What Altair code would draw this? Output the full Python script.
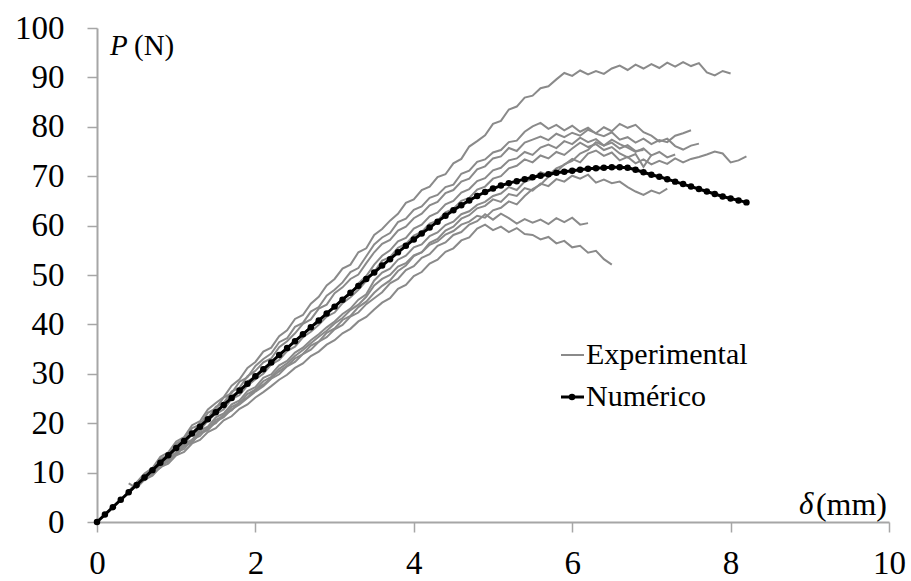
import altair as alt
import pandas as pd

FONT = "Liberation Serif"

# deslocamento (mm) sampling grid
DELTA = [0.0, 0.1, 0.2, 0.3, 0.4, 0.5, 0.6, 0.7, 0.8, 0.9,
         1.0, 1.1, 1.2, 1.3, 1.4, 1.5, 1.6, 1.7, 1.8, 1.9,
         2.0, 2.1, 2.2, 2.3, 2.4, 2.5, 2.6, 2.7, 2.8, 2.9,
         3.0, 3.1, 3.2, 3.3, 3.4, 3.5, 3.6, 3.7, 3.8, 3.9,
         4.0, 4.1, 4.2, 4.3, 4.4, 4.5, 4.6, 4.7, 4.8, 4.9,
         5.0, 5.1, 5.2, 5.3, 5.4, 5.5, 5.6, 5.7, 5.8, 5.9,
         6.0, 6.1, 6.2, 6.3, 6.4, 6.5, 6.6, 6.7, 6.8, 6.9,
         7.0, 7.1, 7.2, 7.3, 7.4, 7.5, 7.6, 7.7, 7.8, 7.9,
         8.0, 8.1, 8.2]

# Numerical curve P (N), one value per DELTA entry
NUM_P = [0.0, 1.5, 3.0, 4.5, 6.0, 7.5, 9.0, 10.5, 12.0, 13.5,
         15.0, 16.4, 17.9, 19.3, 20.8, 22.2, 23.7, 25.1, 26.6, 28.0,
         29.5, 30.9, 32.3, 33.8, 35.2, 36.6, 38.0, 39.4, 40.8, 42.2,
         43.6, 45.0, 46.4, 47.8, 49.2, 50.5, 51.9, 53.2, 54.6, 55.9,
         57.2, 58.4, 59.6, 60.8, 62.0, 63.1, 64.1, 65.1, 66.0, 66.8,
         67.5, 68.1, 68.6, 69.0, 69.4, 69.8, 70.1, 70.4, 70.7, 70.9,
         71.1, 71.3, 71.5, 71.6, 71.7, 71.8, 71.8, 71.7, 71.3, 70.8,
         70.3, 69.9, 69.4, 68.9, 68.4, 67.9, 67.4, 66.9, 66.4, 65.9,
         65.5, 65.1, 64.7]

# Experimental curves: first delta and P values every 0.1 mm
EXP_START = {"A": 0.5, "B": 0.6, "C": 0.5, "D": 0.6, "E": 0.4,
             "F": 0.5, "G": 0.5, "H": 0.4, "I": 0.7, "J": 0.6}

EXP_A = [8.0, 9.8, 10.9, 13.2, 14.1, 16.3, 17.2, 19.6, 20.4, 22.8,
         24.1, 25.3, 27.6, 28.9, 31.2, 32.4, 34.5, 35.3, 37.6, 38.8,
         41.1, 41.9, 44.2, 45.6, 47.9, 49.2, 51.3, 52.1, 54.6, 55.4,
         58.1, 59.3, 61.0, 62.4, 64.6, 65.3, 67.2, 67.9, 69.8, 70.4,
         72.6, 73.5, 76.0, 77.1, 78.3, 80.6, 81.2, 83.5, 84.1, 85.9,
         86.3, 87.8, 88.2, 89.6, 90.9, 90.3, 91.4, 90.6, 91.3, 90.7,
         91.8, 92.4, 91.5, 92.6, 91.8, 92.7, 91.9, 93.0, 92.2, 93.1,
         92.3, 92.9, 91.0, 90.4, 91.3, 90.8]
EXP_B = [9.2, 10.6, 12.8, 13.5, 15.9, 16.8, 19.0, 19.7, 22.1, 23.0,
         25.2, 26.1, 28.4, 29.3, 31.6, 33.0, 34.1, 36.4, 37.2, 39.5,
         40.3, 42.6, 43.5, 45.8, 47.0, 48.5, 50.6, 51.4, 53.8, 56.2,
         57.6, 58.5, 60.7, 61.4, 63.2, 63.9, 65.6, 66.2, 67.8, 68.3,
         70.5, 71.1, 72.9, 73.4, 74.8, 75.3, 76.9, 77.2, 79.0, 80.1,
         80.8, 79.6, 80.4, 79.3, 80.2, 79.0, 79.8, 78.6, 78.1, 78.9,
         77.4, 77.9, 76.8, 77.6, 76.5, 77.3, 76.9, 78.2, 78.7, 79.3]
EXP_C = [7.6, 9.5, 10.3, 12.6, 13.2, 15.4, 16.9, 17.8, 20.1, 21.0,
         23.3, 24.1, 26.4, 27.2, 29.5, 30.6, 32.3, 33.1, 35.4, 36.6,
         38.2, 40.1, 41.0, 43.2, 44.0, 46.3, 47.5, 49.2, 50.1, 52.4,
         54.6, 56.3, 57.1, 59.0, 59.8, 61.5, 62.4, 64.1, 64.8, 66.6,
         67.2, 68.9, 69.5, 71.4, 72.0, 73.6, 74.0, 75.7, 75.1, 76.8,
         77.4, 78.0, 77.3, 78.6, 77.9, 78.8, 78.2, 79.4, 78.7, 79.9,
         79.1, 80.6, 79.8, 80.4, 78.9, 78.2, 77.0, 77.6, 76.1, 75.4,
         76.2, 76.6]
EXP_D = [8.9, 10.5, 11.6, 13.8, 14.6, 16.7, 17.5, 19.8, 20.6, 22.7,
         23.5, 25.6, 26.3, 28.5, 29.4, 31.2, 32.0, 34.1, 35.0, 36.8,
         37.9, 39.6, 40.3, 42.5, 43.4, 45.2, 46.1, 48.3, 49.8, 52.1,
         53.9, 55.0, 56.8, 57.5, 59.4, 60.2, 61.9, 62.6, 64.3, 65.0,
         66.7, 67.4, 69.0, 69.6, 71.2, 71.7, 73.2, 73.6, 74.9, 74.3,
         75.8, 76.4, 75.7, 77.1, 76.5, 77.8, 76.9, 77.5, 76.2, 76.8,
         75.6, 76.3, 75.1, 75.3]
EXP_E = [6.3, 7.9, 8.6, 10.5, 11.3, 13.2, 14.0, 15.9, 16.6, 18.5,
         19.3, 21.2, 22.0, 23.8, 24.6, 26.5, 27.3, 29.2, 29.9, 31.7,
         32.6, 34.3, 35.3, 36.8, 38.0, 39.4, 40.6, 42.1, 43.2, 45.0,
         46.1, 48.9, 50.5, 51.3, 53.1, 53.9, 55.6, 56.2, 57.9, 58.6,
         60.1, 60.8, 62.3, 62.9, 64.2, 64.8, 66.0, 66.5, 67.8, 67.2,
         68.9, 69.4, 70.8, 70.2, 71.6, 72.3, 73.5, 72.8, 74.6, 75.2,
         74.1, 74.8, 73.2, 73.9, 72.6, 73.4, 72.4, 73.1, 72.5, 73.6,
         72.8, 73.5, 73.9, 74.4, 75.0, 74.6, 72.8, 73.2, 74.0]
EXP_F = [7.2, 8.8, 9.6, 11.4, 12.2, 14.1, 14.8, 16.7, 17.4, 19.2,
         20.0, 21.8, 22.6, 24.3, 25.2, 26.8, 27.8, 29.2, 30.5, 31.6,
         33.1, 34.0, 35.7, 36.5, 38.3, 39.2, 40.9, 41.7, 43.5, 44.6,
         46.4, 47.8, 48.9, 50.8, 51.9, 53.8, 54.6, 56.5, 57.3, 59.0,
         59.8, 61.4, 62.1, 63.5, 64.0, 65.3, 64.8, 66.4, 66.0, 67.6,
         67.1, 68.5, 68.0, 69.4, 68.9, 70.1, 69.5, 70.3, 68.7, 69.3,
         68.6, 68.9, 67.8, 66.9, 66.2, 67.1, 66.5, 67.5]
EXP_G = [7.4, 8.5, 10.2, 11.0, 12.8, 13.6, 15.3, 16.1, 17.9, 18.6,
         20.3, 21.2, 22.8, 23.8, 25.1, 26.4, 27.5, 29.0, 29.9, 31.5,
         32.4, 34.0, 34.9, 36.5, 37.4, 39.0, 39.9, 41.6, 42.4, 44.1,
         45.3, 46.5, 48.3, 49.2, 51.0, 51.8, 53.5, 54.2, 55.9, 56.6,
         58.1, 58.7, 60.2, 60.9, 62.3, 61.2, 62.4, 61.5, 60.4, 61.3,
         60.6, 61.2, 60.3, 61.5, 60.7, 61.6, 60.2, 60.5]
EXP_H = [7.8, 6.9, 8.6, 9.4, 11.1, 11.8, 13.5, 14.2, 15.9, 16.6,
         18.2, 19.0, 20.6, 21.4, 22.9, 23.8, 25.2, 26.3, 27.5, 28.8,
         29.8, 31.2, 32.1, 33.6, 34.5, 35.9, 36.8, 38.2, 39.1, 40.6,
         41.5, 43.0, 44.4, 45.3, 47.2, 48.0, 49.8, 50.6, 52.3, 53.1,
         54.7, 55.4, 57.0, 57.6, 59.4, 60.2, 59.1, 59.8, 58.7, 59.5,
         58.3, 58.1, 57.2, 57.7, 56.4, 56.9, 55.6, 55.9, 54.5, 54.9,
         53.2, 52.1]
EXP_I = [10.2, 11.9, 12.8, 14.9, 15.7, 17.8, 18.6, 20.5, 21.9, 22.8,
         24.9, 25.7, 27.6, 28.9, 30.0, 31.9, 32.8, 34.6, 35.5, 37.4,
         38.5, 39.9, 41.6, 42.4, 44.3, 45.5, 47.0, 48.8, 50.6, 52.9,
         53.6, 55.5, 56.3, 58.0, 58.7, 60.4, 61.0, 62.7, 63.4, 65.0,
         65.6, 67.3, 67.9, 69.5, 70.0, 71.6, 72.1, 73.4, 72.8, 74.2,
         73.6, 74.9, 74.3, 75.6, 76.8, 75.9, 76.5, 75.3, 75.9, 74.6,
         73.8, 74.5, 71.9, 74.3]
EXP_J = [8.4, 9.9, 11.0, 12.7, 13.6, 15.5, 16.2, 18.1, 18.8, 20.7,
         21.5, 23.3, 24.1, 25.9, 26.8, 28.5, 29.4, 31.0, 32.1, 33.6,
         34.8, 36.2, 37.5, 38.7, 40.2, 41.3, 42.9, 44.0, 45.6, 47.9,
         49.2, 50.0, 51.7, 52.4, 54.0, 54.6, 56.1, 56.8, 58.2, 58.9,
         60.2, 60.8, 62.0, 61.6, 63.1, 63.6, 64.9, 64.3, 66.0, 67.4,
         68.3, 69.9, 70.8, 72.4, 73.1, 74.6, 75.3, 76.9, 76.2, 77.4,
         76.5, 75.8, 74.9, 75.6, 74.2, 74.9, 73.8, 74.4]

EXP_VALUES = {"A": EXP_A, "B": EXP_B, "C": EXP_C, "D": EXP_D, "E": EXP_E,
              "F": EXP_F, "G": EXP_G, "H": EXP_H, "I": EXP_I, "J": EXP_J}

rows = []
for name, vals in EXP_VALUES.items():
    i0 = DELTA.index(EXP_START[name])
    for k, v in enumerate(vals):
        rows.append({"ensaio": name, "delta": DELTA[i0 + k], "P": v, "ordem": k})
exp_df = pd.DataFrame(rows)
num_df = pd.DataFrame({"delta": DELTA, "P": NUM_P})

GRAY = "#8a8a8a"
AXIS_GRAY = "#a6a6a6"

x_scale = alt.Scale(domain=[0, 10], nice=False, zero=True)
y_scale = alt.Scale(domain=[0, 100], nice=False, zero=True)

x_axis = alt.Axis(values=[0, 2, 4, 6, 8, 10], format="d", title=None, grid=False,
                  domainColor=AXIS_GRAY, domainWidth=2, tickColor=AXIS_GRAY,
                  tickWidth=1.5, tickSize=10, labelFont=FONT, labelFontSize=33,
                  labelColor="black", labelPadding=15, labelFlush=False)
y_axis = alt.Axis(values=[0, 10, 20, 30, 40, 50, 60, 70, 80, 90, 100], format="d",
                  title=None, grid=False, domainColor=AXIS_GRAY, domainWidth=2,
                  tickColor=AXIS_GRAY, tickWidth=1.5, tickSize=10, labelFont=FONT,
                  labelFontSize=33, labelColor="black", labelPadding=23)

exp_lines = alt.Chart(exp_df).mark_line(color=GRAY, strokeWidth=2).encode(
    x=alt.X("delta:Q", scale=x_scale, axis=x_axis),
    y=alt.Y("P:Q", scale=y_scale, axis=y_axis),
    detail="ensaio:N",
    order="ordem:Q",
)

num_line = alt.Chart(num_df).mark_line(
    color="black", strokeWidth=3,
    point=alt.OverlayMarkDef(filled=True, color="black", size=42, opacity=1),
).encode(
    x=alt.X("delta:Q", scale=x_scale),
    y=alt.Y("P:Q", scale=y_scale),
)

one = pd.DataFrame({"k": [0]})

def txt(s, x, y, size=29, italic=False, align="left"):
    kw = dict(text=s, font=FONT, fontSize=size, color="black", align=align,
              baseline="middle")
    if italic:
        kw["fontStyle"] = "italic"
    return alt.Chart(one).mark_text(**kw).encode(x=alt.value(x), y=alt.value(y))

leg_exp_line = alt.Chart(one).mark_rule(color=GRAY, strokeWidth=2).encode(
    x=alt.value(464), x2=alt.value(487), y=alt.value(327))
leg_num_line = alt.Chart(one).mark_rule(color="black", strokeWidth=3).encode(
    x=alt.value(464), x2=alt.value(487), y=alt.value(369))
leg_num_pt = alt.Chart(one).mark_point(filled=True, color="black", size=42, opacity=1).encode(
    x=alt.value(475), y=alt.value(369))

chart = alt.layer(
    exp_lines,
    num_line,
    leg_exp_line,
    leg_num_line,
    leg_num_pt,
    txt("Experimental", 489, 327, size=30),
    txt("Numérico", 489, 369, size=30),
    txt("P", 13, 18, italic=True),
    txt("(N)", 37, 18),
    txt("δ", 702, 477, size=31, italic=True),
    txt("(mm)", 790, 477, size=32, align="right"),
).properties(
    width=792,
    height=494,
    background="white",
    autosize=alt.AutoSizeParams(type="none"),
    padding={"left": 97, "top": 28, "right": 22, "bottom": 59},
).configure_view(stroke=None)

chart.save("out.html", embed_options={"renderer": "svg", "actions": False})
